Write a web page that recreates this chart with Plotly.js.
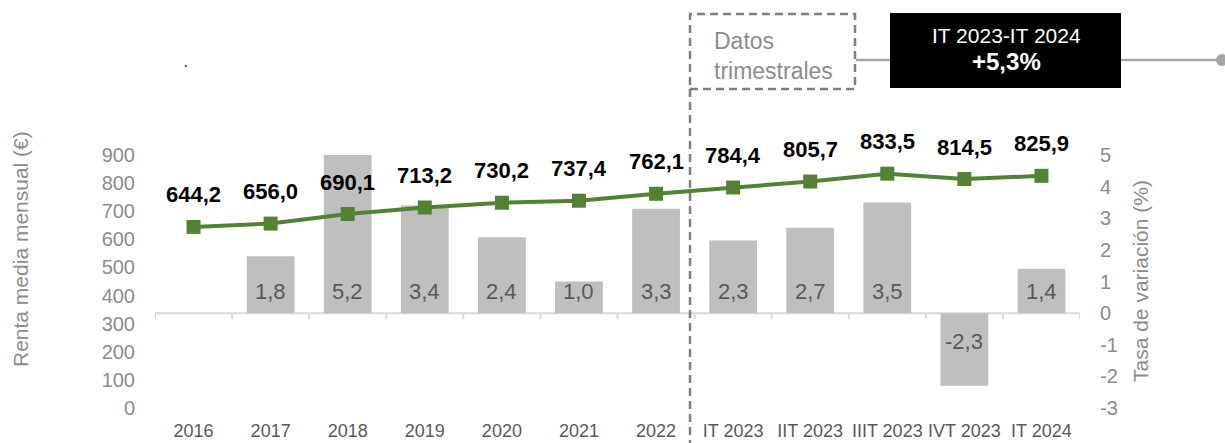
<!DOCTYPE html>
<html>
<head>
<meta charset="utf-8">
<script src="https://cdn.plot.ly/plotly-3.0.1.min.js"></script>
<style>html,body{margin:0;padding:0;background:#fff;}#chart{width:1225px;height:443px;}</style>
</head>
<body>
<div id="chart"></div>
<script>
const categories = ['2016','2017','2018','2019','2020','2021','2022','IT 2023','IIT 2023','IIIT 2023','IVT 2023','IT 2024'];
const renta = [644.2, 656.0, 690.1, 713.2, 730.2, 737.4, 762.1, 784.4, 805.7, 833.5, 814.5, 825.9];
const tasa = [null, 1.8, 5.2, 3.4, 2.4, 1.0, 3.3, 2.3, 2.7, 3.5, -2.3, 1.4];
const leftTicks = [0, 100, 200, 300, 400, 500, 600, 700, 800, 900];
const rightTicks = [-3, -2, -1, 0, 1, 2, 3, 4, 5];
const boxTitle = 'IT 2023-IT 2024';
const boxValue = '+5,3%';

const FONT = 'Liberation Sans, Arial, sans-serif';
const W = 1225, H = 443;
const M = {l: 155, r: 145, t: 155, b: 35};
const px = x => (x - M.l) / (W - M.l - M.r);
const py = y => (H - M.b - y) / (H - M.t - M.b);
const fmt = v => v.toFixed(1).replace('.', ',');

const traces = [
  {
    type: 'bar', x: categories, y: tasa, yaxis: 'y',
    marker: {color: '#bfbfbf'}, width: 0.62, hoverinfo: 'skip'
  },
  {
    type: 'scatter', mode: 'lines+markers', x: categories, y: renta, yaxis: 'y2',
    line: {color: '#548235', width: 4},
    marker: {symbol: 'square', size: 14, color: '#548235'},
    hoverinfo: 'skip', cliponaxis: false
  }
];

const shapes = [];
shapes.push({type: 'line', xref: 'paper', yref: 'y', x0: 0, x1: 1, y0: 0, y1: 0,
  line: {color: '#d9d9d9', width: 2}, layer: 'below'});
for (let i = 0; i <= categories.length; i++) {
  shapes.push({type: 'line', xref: 'x', yref: 'y', ysizemode: 'pixel', yanchor: 0,
    x0: i - 0.5, x1: i - 0.5, y0: 0, y1: -6, line: {color: '#d9d9d9', width: 2}, layer: 'below'});
}
shapes.push({type: 'line', xref: 'paper', yref: 'paper', x0: px(690), x1: px(690), y0: py(89), y1: py(445),
  line: {color: '#7f7f7f', width: 2.5, dash: '8px,5px'}});
shapes.push({type: 'rect', xref: 'paper', yref: 'paper', x0: px(690), x1: px(855), y0: py(89), y1: py(14),
  line: {color: '#7f7f7f', width: 2.5, dash: '8px,5px'}, fillcolor: 'rgba(0,0,0,0)'});
shapes.push({type: 'line', xref: 'paper', yref: 'paper', x0: px(856), x1: px(890), y0: py(60), y1: py(60),
  line: {color: '#a6a6a6', width: 2.5}});
shapes.push({type: 'line', xref: 'paper', yref: 'paper', x0: px(1121), x1: px(1222), y0: py(60), y1: py(60),
  line: {color: '#a6a6a6', width: 2.5}});
shapes.push({type: 'circle', xref: 'paper', yref: 'paper', x0: px(1216), x1: px(1228), y0: py(66), y1: py(54),
  line: {color: '#a6a6a6', width: 0}, fillcolor: '#a6a6a6'});
shapes.push({type: 'rect', xref: 'paper', yref: 'paper', x0: px(890), x1: px(1121), y0: py(88), y1: py(13),
  line: {width: 0}, fillcolor: '#000000'});

const annotations = [];
const ann = o => annotations.push(Object.assign({showarrow: false, xanchor: 'center', yanchor: 'middle'}, o));
renta.forEach((v, i) => {
  ann({x: i, y: v, xref: 'x', yref: 'y2', text: '<b>' + fmt(v) + '</b>',
    yshift: 32, font: {family: FONT, size: 22, color: '#000'}});
});
tasa.forEach((v, i) => {
  if (v === null) return;
  ann({x: i, y: 0, xref: 'x', yref: 'y', text: fmt(v),
    yshift: v >= 0 ? 22 : -28, font: {family: FONT, size: 22, color: '#595959'}});
});
ann({xref: 'paper', yref: 'paper', x: px(20), y: py(249), text: 'Renta media mensual (€)',
  textangle: -90, font: {family: FONT, size: 21, color: '#8c8c8c'}});
ann({xref: 'paper', yref: 'paper', x: px(1140), y: py(281), text: 'Tasa de variación (%)',
  textangle: -90, font: {family: FONT, size: 21, color: '#8c8c8c'}});
ann({xref: 'paper', yref: 'paper', x: px(712), y: py(41), xanchor: 'left', text: 'Datos',
  font: {family: FONT, size: 23, color: '#8c8c8c'}});
ann({xref: 'paper', yref: 'paper', x: px(712), y: py(71), xanchor: 'left', text: 'trimestrales',
  font: {family: FONT, size: 23, color: '#8c8c8c'}});
ann({xref: 'paper', yref: 'paper', x: px(1006), y: py(35), text: boxTitle,
  font: {family: FONT, size: 21, color: '#ffffff'}});
ann({xref: 'paper', yref: 'paper', x: px(1006), y: py(62), text: '<b>' + boxValue + '</b>',
  font: {family: FONT, size: 24, color: '#ffffff'}});
ann({xref: 'paper', yref: 'paper', x: px(186), y: py(60), text: '.',
  font: {family: FONT, size: 20, color: '#595959'}});

const layout = {
  width: W, height: H,
  margin: M,
  paper_bgcolor: '#ffffff', plot_bgcolor: '#ffffff',
  showlegend: false,
  font: {family: FONT},
  xaxis: {type: 'category', range: [-0.5, categories.length - 0.5], showgrid: false, showline: false,
    zeroline: false, ticks: '', tickfont: {family: FONT, size: 18, color: '#595959'}, ticklabelstandoff: 10},
  yaxis: {side: 'right', range: [-3, 5], tickvals: rightTicks, ticktext: rightTicks.map(String),
    showgrid: false, zeroline: false, showline: false, ticks: '',
    tickfont: {family: FONT, size: 20, color: '#8c8c8c'}, ticklabelstandoff: 19},
  yaxis2: {overlaying: 'y', side: 'left', range: [0, 900], tickvals: leftTicks, ticktext: leftTicks.map(String),
    showgrid: false, zeroline: false, showline: false, ticks: '',
    tickfont: {family: FONT, size: 20, color: '#8c8c8c'}, ticklabelstandoff: 19},
  shapes: shapes,
  annotations: annotations
};

Plotly.newPlot('chart', traces, layout, {staticPlot: true, displayModeBar: false});
</script>
</body>
</html>
